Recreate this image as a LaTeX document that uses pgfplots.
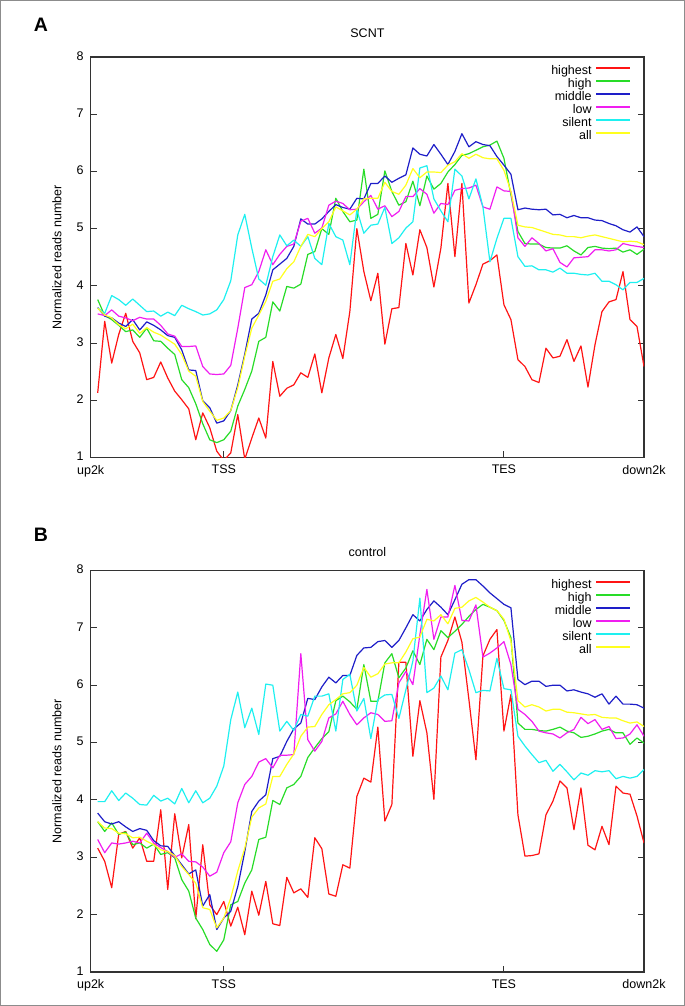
\documentclass[border=0pt]{standalone}
\usepackage{fontspec}
\setmainfont{Liberation Sans}
\usepackage{pgfplots}
\usepackage{pgfplotstable}
\pgfplotsset{compat=1.18}
\definecolor{cR}{RGB}{255,20,20}
\definecolor{cG}{RGB}{40,220,40}
\definecolor{cB}{RGB}{30,30,200}
\definecolor{cM}{RGB}{240,30,240}
\definecolor{cC}{RGB}{30,240,240}
\definecolor{cY}{RGB}{255,255,30}
\newcommand{\fnt}{\fontsize{12.5bp}{15bp}\selectfont}

\pgfplotstableread{
x hst hi mid low sil all
2 2.13 3.76 3.62 3.51 3.61 3.61
3 3.38 3.48 3.47 3.48 3.52 3.49
4 2.65 3.41 3.44 3.58 3.83 3.44
5 3.15 3.31 3.35 3.47 3.76 3.32
6 3.52 3.20 3.29 3.44 3.66 3.25
7 3.03 3.23 3.41 3.39 3.77 3.33
8 2.83 3.10 3.23 3.45 3.66 3.17
9 2.36 3.26 3.37 3.42 3.55 3.27
10 2.40 3.04 3.31 3.42 3.56 3.19
11 2.67 3.03 3.23 3.31 3.47 3.14
12 2.39 2.91 3.13 3.16 3.54 3.06
13 2.16 2.80 3.10 3.12 3.48 2.98
14 2.01 2.36 2.88 2.94 3.66 2.80
15 1.85 2.22 2.53 2.94 3.60 2.51
16 1.31 1.94 2.52 2.95 3.55 2.42
17 1.78 1.59 1.99 2.59 3.49 1.98
18 1.52 1.31 1.87 2.46 3.51 1.81
19 1.11 1.26 1.60 2.45 3.58 1.65
20 0.95 1.31 1.64 2.46 3.76 1.69
21 1.08 1.46 1.82 2.61 4.09 1.82
22 1.75 1.90 2.27 3.26 4.89 2.22
23 0.97 2.19 2.81 3.97 5.25 2.77
24 1.34 2.51 3.42 4.02 4.66 3.26
25 1.69 3.03 3.52 4.25 4.12 3.49
26 1.34 3.10 3.84 4.63 4.01 3.73
27 2.68 3.72 4.28 4.37 4.51 4.08
28 2.07 3.56 4.38 4.55 4.89 4.12
29 2.21 3.99 4.48 4.69 4.70 4.30
30 2.27 3.96 4.69 4.73 4.80 4.42
31 2.48 4.03 5.17 5.13 4.69 4.69
32 2.40 4.55 5.08 5.18 4.86 4.90
33 2.81 4.60 5.08 4.92 4.48 4.86
34 2.13 5.00 5.17 5.01 4.37 5.00
35 2.74 4.90 5.30 5.41 5.09 5.12
36 3.15 5.53 5.42 5.48 4.86 5.38
37 2.73 5.30 5.37 5.44 4.80 5.31
38 3.55 5.12 5.34 5.33 4.37 5.24
39 5.00 5.15 5.53 5.34 5.33 5.34
40 4.25 6.04 5.52 5.47 4.92 5.52
41 3.74 5.18 5.79 5.58 5.06 5.53
42 4.22 5.25 5.79 5.34 5.08 5.53
43 2.98 6.01 5.92 5.40 5.37 5.81
44 3.60 5.65 5.81 5.21 4.74 5.65
45 3.62 5.41 5.88 5.30 4.84 5.60
46 4.74 5.47 5.94 5.56 5.01 5.76
47 4.19 5.83 6.41 5.56 5.12 6.05
48 4.98 5.40 6.30 5.70 6.06 5.89
49 4.67 5.92 6.27 5.60 6.10 5.99
50 3.98 5.69 6.47 5.27 5.52 5.99
51 4.66 5.79 6.30 5.44 5.31 5.98
52 5.79 5.99 6.12 5.42 5.12 6.11
53 4.51 6.12 6.35 5.67 6.04 6.17
54 5.79 6.28 6.66 5.70 5.92 6.31
55 3.70 6.31 6.43 5.71 5.52 6.23
56 4.02 6.37 6.52 5.76 5.87 6.30
57 4.38 6.43 6.47 5.38 5.38 6.24
58 4.44 6.46 6.45 5.34 4.42 6.22
59 4.54 6.53 6.26 5.73 4.83 6.22
60 3.67 6.23 6.11 5.66 5.18 6.02
61 3.41 5.59 5.95 5.65 5.18 5.65
62 2.71 4.95 5.33 4.84 4.51 5.06
63 2.59 4.74 5.36 4.69 4.34 5.03
64 2.36 4.73 5.34 4.84 4.35 5.02
65 2.31 4.73 5.33 4.74 4.28 4.98
66 2.91 4.67 5.34 4.61 4.28 4.94
67 2.74 4.66 5.24 4.65 4.24 4.90
68 2.77 4.66 5.25 4.41 4.31 4.89
69 3.06 4.70 5.19 4.33 4.22 4.86
70 2.68 4.61 5.23 4.49 4.22 4.86
71 2.95 4.54 5.19 4.50 4.20 4.84
72 2.23 4.67 5.19 4.51 4.19 4.87
73 2.97 4.69 5.15 4.63 4.22 4.89
74 3.55 4.66 5.14 4.63 4.08 4.86
75 3.72 4.65 5.09 4.61 4.08 4.83
76 3.76 4.66 5.05 4.63 4.02 4.80
77 4.25 4.59 4.98 4.74 3.93 4.77
78 3.41 4.63 4.94 4.71 4.06 4.78
79 3.29 4.55 5.03 4.69 4.06 4.77
80 2.59 4.64 4.86 4.67 4.13 4.72
}\tA

\pgfplotstableread{
x hst hi mid low sil all
2 3.16 3.62 3.77 3.31 3.97 3.62
3 2.93 3.45 3.62 3.08 3.97 3.51
4 2.47 3.60 3.58 3.25 4.16 3.50
5 3.40 3.40 3.62 3.23 3.99 3.42
6 3.45 3.44 3.53 3.25 4.12 3.41
7 3.16 3.22 3.45 3.28 4.03 3.34
8 3.34 3.25 3.50 3.25 3.92 3.35
9 2.93 3.16 3.47 3.42 3.91 3.28
10 2.93 3.23 3.29 3.25 4.08 3.22
11 3.83 3.05 3.20 3.17 3.98 3.13
12 2.44 3.08 3.19 3.10 4.03 3.10
13 3.76 2.99 3.03 3.00 3.93 3.03
14 2.99 2.61 2.87 3.06 4.20 2.84
15 3.57 2.41 2.71 2.93 3.95 2.70
16 1.93 1.94 2.78 2.92 4.16 2.55
17 3.22 1.74 2.15 2.83 3.95 2.12
18 2.17 1.48 2.35 2.67 4.03 2.09
19 2.00 1.36 1.74 2.74 4.24 1.77
20 2.23 1.56 1.94 3.08 4.59 1.94
21 1.80 2.17 2.06 3.27 5.40 2.29
22 2.13 2.23 2.49 3.95 5.88 2.76
23 1.65 2.55 3.10 4.27 5.26 3.16
24 2.41 2.78 3.80 4.41 5.60 3.70
25 1.99 3.31 3.98 4.66 5.14 3.86
26 2.58 3.35 4.09 4.72 6.02 3.93
27 1.84 3.99 4.72 4.56 6.00 4.41
28 1.81 3.92 4.76 4.78 5.20 4.41
29 2.65 4.21 5.02 4.78 5.37 4.62
30 2.38 4.27 5.24 4.79 5.21 4.80
31 2.45 4.41 5.34 6.55 5.49 5.11
32 2.30 4.74 5.77 5.05 5.46 5.27
33 3.34 4.91 5.75 4.85 5.81 5.28
34 3.15 5.07 5.97 5.02 5.81 5.49
35 2.36 5.19 6.14 5.43 5.85 5.66
36 2.32 5.73 6.04 5.50 5.20 5.75
37 2.87 5.81 6.17 5.72 6.10 5.85
38 2.81 5.71 6.17 5.49 6.19 5.87
39 4.06 5.58 6.52 5.31 5.55 6.00
40 4.38 6.36 6.65 5.43 5.77 6.31
41 4.31 5.72 6.66 5.52 5.07 6.14
42 5.27 5.72 6.76 5.49 5.75 6.20
43 3.63 6.39 6.78 5.37 5.83 6.37
44 3.92 6.55 6.66 5.38 5.84 6.39
45 6.40 6.13 6.78 6.04 5.42 6.39
46 6.40 6.30 7.00 6.24 5.92 6.58
47 4.76 6.60 7.23 6.01 6.42 6.81
48 5.73 6.36 7.12 6.88 7.52 6.84
49 5.17 6.80 7.32 7.67 5.87 7.15
50 4.01 6.62 7.47 6.80 5.95 7.12
51 6.49 6.95 7.36 7.19 6.16 7.23
52 6.78 6.83 7.23 7.19 5.92 7.07
53 7.19 6.94 7.49 7.74 6.56 7.34
54 6.75 7.06 7.76 7.13 6.62 7.36
55 5.75 7.20 7.84 7.12 6.27 7.47
56 4.70 7.32 7.84 7.40 5.87 7.53
57 6.51 7.41 7.73 6.49 5.91 7.45
58 6.80 7.36 7.61 6.56 5.90 7.36
59 6.97 7.30 7.51 6.65 6.47 7.30
60 5.20 7.13 7.41 6.76 5.94 7.15
61 5.84 6.83 7.35 6.36 5.92 6.77
62 3.74 5.34 6.10 5.58 5.11 5.73
63 3.02 5.23 6.01 5.49 4.94 5.62
64 3.03 5.23 6.07 5.37 4.79 5.66
65 3.06 5.21 6.07 5.20 4.65 5.62
66 3.74 5.20 5.98 5.17 4.69 5.55
67 3.98 5.23 6.00 5.15 4.50 5.58
68 4.33 5.27 6.00 5.08 4.62 5.58
69 4.21 5.20 5.90 5.17 4.49 5.53
70 3.48 5.17 5.92 5.23 4.35 5.52
71 4.21 5.09 5.88 5.44 4.47 5.50
72 3.21 5.11 5.85 5.33 4.43 5.48
73 3.13 5.15 5.79 5.40 4.51 5.49
74 3.54 5.20 5.85 5.23 4.49 5.44
75 3.22 5.23 5.67 5.28 4.51 5.43
76 4.24 5.17 5.81 5.07 4.37 5.43
77 4.12 5.17 5.67 5.08 4.41 5.38
78 4.10 4.97 5.67 5.15 4.38 5.34
79 3.72 5.08 5.66 5.31 4.41 5.36
80 3.25 4.99 5.60 5.11 4.53 5.28
}\tB

\pgfplotsset{
  legend image code/.code={\draw[#1, line width=1.2bp] (0bp,3.7bp) -- (34bp,3.7bp);},
}
\pgfplotsset{
  panel/.style={
    width=553.3bp, height=400.5bp, scale only axis,
    xmin=1, xmax=80, ymin=1, ymax=8,
    xtick={1,20,60,80}, xticklabels={up2k,TSS,TES,down2k},
    ytick={1,2,3,4,5,6,7,8},
    xtick pos=lower, ytick pos=both,
    tick align=inside,
    major tick length=6bp,
    axis line style={line width=1.1bp, black!80},
    tick style={line width=0.9bp, black!80},
    ticklabel style={font=\fnt},
    /pgf/number format/assume math mode=true,
    yticklabel style={xshift=-3.5bp, yshift=1bp},
    xticklabel style={yshift=-4bp},
    ylabel={Normalized reads number},
    ylabel style={font=\fnt, at={(axis description cs:-0.061,0.5)}, anchor=center},
    every axis plot/.append style={line width=1.2bp, line join=round},
    legend cell align=right,
    legend plot pos=right,
    legend style={at={(rel axis cs:1,1)}, anchor=north east, xshift=-13bp, yshift=-8bp,
      draw=none, fill=none, inner sep=0pt, row sep=0pt, column sep=4bp,
      nodes={inner sep=0pt, text height=9.2bp, text depth=3.8bp, font=\fnt}},
  }
}

\begin{document}
\begin{tikzpicture}
\path[use as bounding box] (0,0) rectangle (685bp,1006bp);
\draw[black!45, line width=1.2bp] (0.6bp,0.6bp) rectangle (684.4bp,1005.4bp);
\node[font=\fontsize{19.5bp}{22bp}\selectfont\bfseries] at (41bp,981bp) {A};
\node[font=\fontsize{19.5bp}{22bp}\selectfont\bfseries] at (41bp,471bp) {B};
\node[font=\fnt] at (367.4bp,973bp) {SCNT};
\node[font=\fnt] at (367.4bp,454bp) {control};

\begin{axis}[panel, at={(90.7bp,548.5bp)}, anchor=south west]
\addplot[cR] table[x=x,y=hst] {\tA};
\addplot[cG] table[x=x,y=hi] {\tA};
\addplot[cB] table[x=x,y=mid] {\tA};
\addplot[cM] table[x=x,y=low] {\tA};
\addplot[cC] table[x=x,y=sil] {\tA};
\addplot[cY] table[x=x,y=all] {\tA};
\legend{highest,high,middle,low,silent,all}
\end{axis}

\begin{axis}[panel, at={(90.7bp,34bp)}, anchor=south west, height=401.5bp,
  legend style={yshift=-0.5bp}]
\addplot[cR] table[x=x,y=hst] {\tB};
\addplot[cG] table[x=x,y=hi] {\tB};
\addplot[cB] table[x=x,y=mid] {\tB};
\addplot[cM] table[x=x,y=low] {\tB};
\addplot[cC] table[x=x,y=sil] {\tB};
\addplot[cY] table[x=x,y=all] {\tB};
\legend{highest,high,middle,low,silent,all}
\end{axis}
\end{tikzpicture}
\end{document}
